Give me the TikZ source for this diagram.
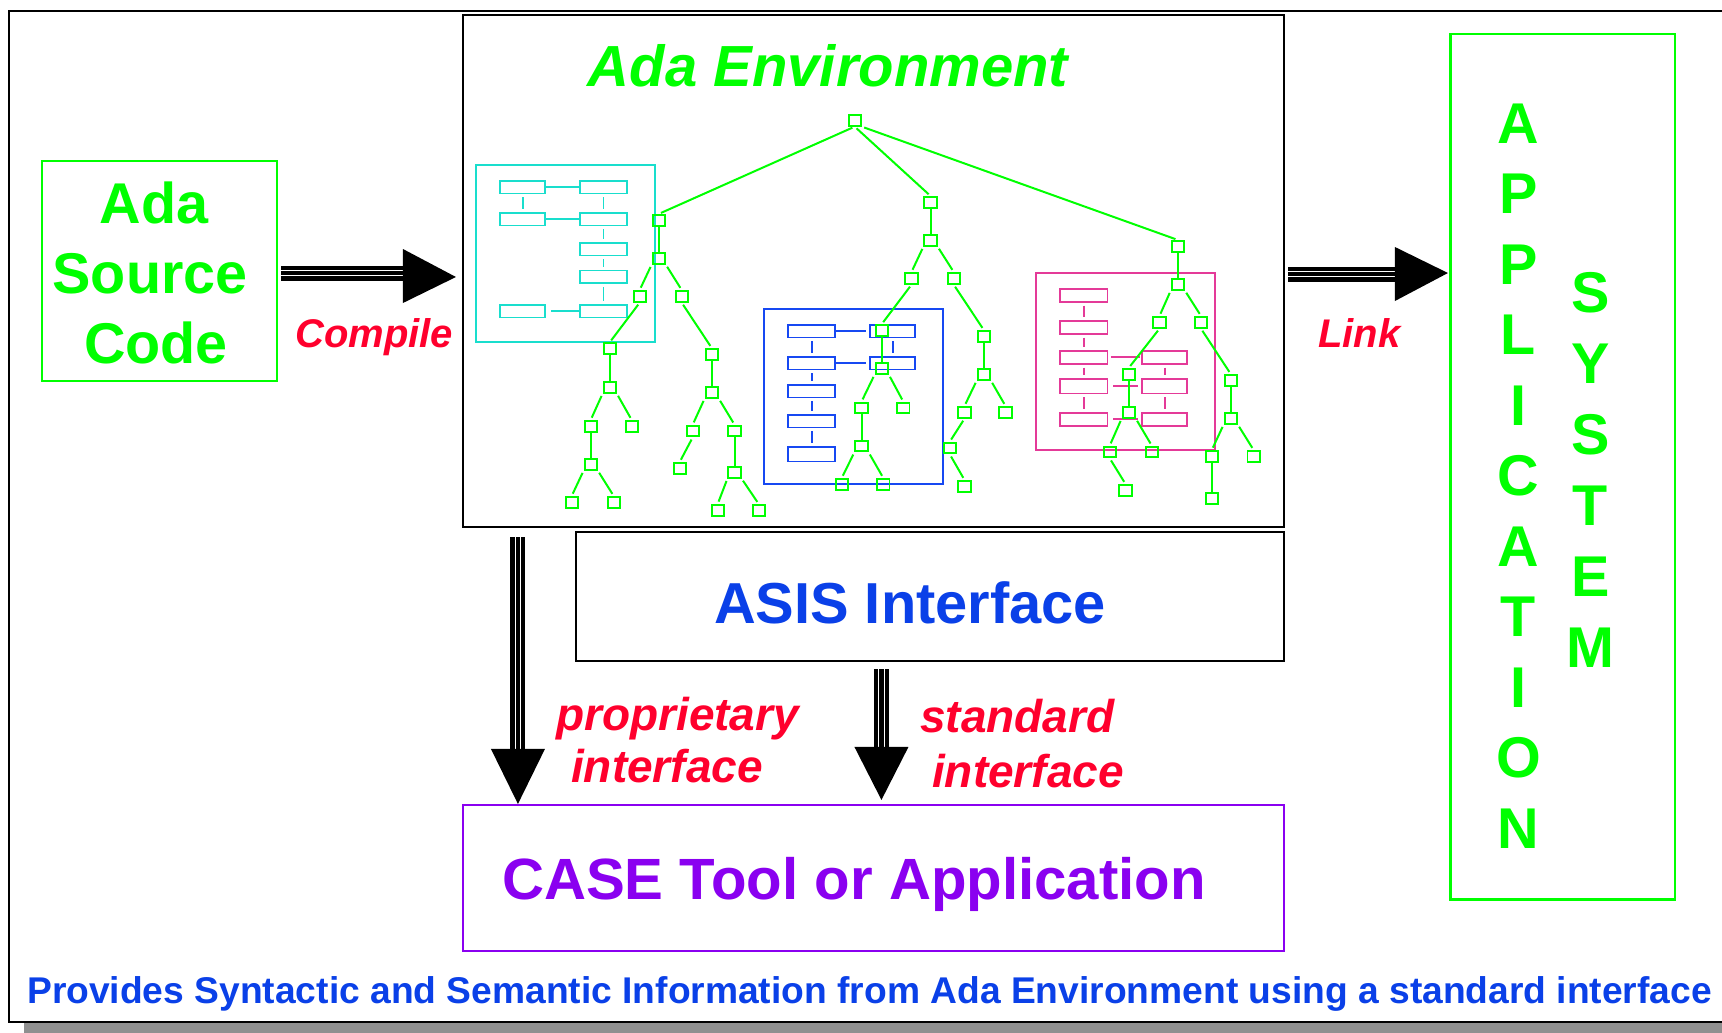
\documentclass[tikz,border=0pt]{standalone}
\usepackage{fontspec}
\setmainfont{Liberation Sans}
\usetikzlibrary{calc}

\definecolor{lime}{RGB}{0,255,0}
\definecolor{lblred}{RGB}{255,0,45}
\definecolor{txtblue}{RGB}{10,64,232}
\definecolor{casepurple}{RGB}{138,0,240}
\definecolor{cyanish}{RGB}{25,222,205}
\definecolor{boxblue}{RGB}{22,72,242}
\definecolor{pinkish}{RGB}{228,58,152}
\definecolor{shadowgray}{RGB}{143,143,143}
\newcommand\fsz[1]{\fontsize{#1pt}{#1pt}\selectfont}

\begin{document}
\begin{tikzpicture}[x=1pt,y=-1pt,
  txt/.style={inner sep=0pt, anchor=base},
  mainbox/.style={draw, line width=1.6pt, inner sep=0pt},
  tnode/.style={draw=lime, line width=1.9pt, minimum width=12.3pt, minimum height=10.8pt, inner sep=0pt},
  tedge/.style={draw=lime, line width=2pt},
  dedge/.style={tedge, shorten <=2.5pt, shorten >=2.5pt},
  mrect/.style={draw, line width=1.8pt, minimum height=12.6pt, inner sep=0pt},
  mlink/.style={line width=1.8pt},
  mdash/.style={line width=1.8pt, shorten <=3pt, shorten >=3pt},
  shaftline/.style={line width=15pt},
  gapline/.style={white, line width=1.3pt},
  bigbold/.style={font=\bfseries\fsz{57.5}},
  lbl/.style={txt, text=lblred, font=\bfseries\itshape\fsz{46}},
]
\useasboundingbox (0,0) rectangle (1722,1033);
\fill[white] (0,0) rectangle (1722,1033);

% outer frame with its drop shadow
\fill[shadowgray] (24,22) rectangle (1760,1045);
\filldraw[fill=white, draw=black, line width=1.6pt] (9,11) rectangle (1745,1022);

% main boxes
\node[mainbox, draw=lime, minimum width=235.5pt, minimum height=220.5pt] (src) at (159.5,271) {};
\node[mainbox, minimum width=821.5pt, minimum height=512.5pt] (env) at (873.5,271) {};
\node[mainbox, minimum width=708.5pt, minimum height=129.5pt] (asis) at (930,596.5) {};
\node[mainbox, draw=casepurple, minimum width=821.5pt, minimum height=146.5pt] (casebox) at (873.5,878) {};
\node[mainbox, draw=lime, line width=2.2pt, minimum width=224.5pt, minimum height=865.5pt] (app) at (1562.8,466.75) {};

% box texts
\node[txt, bigbold, text=lime] (srcA) at (154,223) {Ada};
\node[txt, bigbold, text=lime] (srcB) at (150,293) {Source};
\node[txt, bigbold, text=lime] (srcC) at (156,363) {Code};
\node[txt, text=lime, font=\bfseries\itshape\fsz{58}] (envtitle) at (828,87) {Ada Environment};
\node[txt, text=txtblue, font=\bfseries\fsz{57.8}] (asistext) at (910,623) {ASIS Interface};
\node[txt, text=casepurple, font=\bfseries\fsz{58.2}] (casetext) at (854,899) {CASE Tool or Application};
\foreach \ch [count=\i from 0] in {A,P,P,L,I,C,A,T,I,O,N}
  \node[txt, bigbold, text=lime] (apl\i) at (1518.5,143+70.5*\i) {\ch};
\foreach \ch [count=\i from 0] in {S,Y,S,T,E,M}
  \node[txt, bigbold, text=lime] (sys\i) at (1590.5,312+71*\i) {\ch};
\node[txt, anchor=base west, text=txtblue, font=\bfseries\fsz{37.2}] (caption) at (27,1003)
  {Provides Syntactic and Semantic Information from Ada Environment using a standard interface};

% cyan unit diagram
\begin{scope}[cyanish]
  \draw[line width=2pt] (476,165) rectangle (655,341.5);
  \foreach \r/\y in {1/187.2,2/219.2,5/311.2}
    \node[mrect, minimum width=45pt] (cyl\r) at (522.7,\y) {};
  \foreach \r/\y in {1/187.2,2/219.2,3/249.2,4/276.7,5/311.2}
    \node[mrect, minimum width=46.5pt] (cyr\r) at (603.5,\y) {};
  \draw[mlink] (cyl1) -- (cyr1);
  \draw[mlink] (cyl2) -- (cyr2);
  \draw[mlink, shorten <=5pt] (cyl5) -- (cyr5);
  \draw[mdash] (cyl1) -- (cyl2);
  \foreach \a/\b in {1/2,2/3,3/4,4/5} \draw[mdash] (cyr\a) -- (cyr\b);
\end{scope}

% blue unit diagram
\begin{scope}[boxblue]
  \draw[line width=2pt] (764,309) rectangle (943,483.5);
  \foreach \r/\y in {1/331.2,2/363.2,3/391.2,4/421.2}
    \node[mrect, minimum width=47pt] (bll\r) at (811.7,\y) {};
  \node[mrect, minimum width=47pt, minimum height=14.5pt] (bll5) at (811.7,454.2) {};
  \foreach \r/\y in {1/331.2,2/363.2}
    \node[mrect, minimum width=45pt] (blr\r) at (892.7,\y) {};
  \draw[mlink, shorten >=3pt] (bll1) -- (blr1);
  \draw[mlink, shorten >=3pt] (bll2) -- (blr2);
  \foreach \a/\b in {1/2,2/3,3/4,4/5} \draw[mdash] (bll\a) -- (bll\b);
  \draw[mdash] (blr1) -- (blr2);
\end{scope}

% magenta unit diagram
\begin{scope}[pinkish]
  \draw[line width=2pt] (1036,273) rectangle (1215,449.5);
  \foreach \r/\y in {1/295.5,2/327.3,3/357.3,5/419.3}
    \node[mrect, minimum width=47.5pt] (mgl\r) at (1083.8,\y) {};
  \node[mrect, minimum width=47.5pt, minimum height=14.5pt] (mgl4) at (1083.8,386.3) {};
  \foreach \r/\y in {3/357.3,5/419.3}
    \node[mrect, minimum width=45pt] (mgr\r) at (1164.7,\y) {};
  \node[mrect, minimum width=45pt, minimum height=14.5pt] (mgr4) at (1164.7,386.3) {};
  \draw[mlink, shorten <=2.5pt, shorten >=1pt] (mgl3) -- (mgr3);
  \draw[mlink, shorten <=5pt, shorten >=3pt] (mgl4) -- (mgr4);
  \draw[mlink, shorten <=5pt, shorten >=3pt] (mgl5) -- (mgr5);
  \foreach \a/\b in {1/2,2/3,3/4,4/5} \draw[mdash] (mgl\a) -- (mgl\b);
  \draw[mdash] (mgr3) -- (mgr4);
  \draw[mdash] (mgr4) -- (mgr5);
\end{scope}

% green syntax tree
\foreach \n/\x/\y in {root/854.7/120.3,
  A1/658.7/220.3, A2/658.7/258.3, A3/639.7/296.3, A4/681.7/296.3,
  A5/609.7/348.7, A6/609.7/387.3, A7/590.7/426.3, A8/631.7/426.3,
  A9/590.7/464.3, A10/571.7/502.3, A11/613.7/502.3,
  B1/711.7/354.3, B2/711.7/392.3, B3/692.7/431, B4/734.5/431,
  B5/679.7/468.3, B6/734.5/472.3, B7/717.7/510.3, B8/758.7/510.3,
  C1/930.5/202.3, C2/930.5/240.3, C3/911.5/278.3, C4/953.7/278.3,
  C5/881.7/330.5, C6/881.7/368.3, C7/861.5/408, C8/903.3/408,
  C9/861.5/446, C10/841.7/484.3, C11/883.3/484.3,
  D1/983.8/336.3, D2/983.8/374.3, D3/964.5/412.3, D4/1005.5/412.3,
  D5/949.8/448, D6/964.5/486.3,
  R1/1177.8/246.3, R2/1177.8/284.3, R3/1159.5/322.3, R4/1201/322.3,
  R5/1128.7/374.3, R6/1128.7/412.3, R7/1109.7/452, R8/1151.8/452,
  R9/1125.5/490.3, R10/1230.7/380.3, R11/1230.7/418.3,
  R12/1211.8/456.3, R13/1253.6/456.3, R14/1211.8/498.3}
  \node[tnode] (\n) at (\x,\y) {};

\foreach \a/\b in {A1/A2, A5/A6, A7/A9, B1/B2, B4/B6, C1/C2, C5/C6, C7/C9,
  D1/D2, R1/R2, R5/R6, R10/R11, R12/R14}
  \draw[tedge] (\a) -- (\b);
\foreach \a/\b in {A2/A3, A6/A7, A9/A10, B2/B3, B6/B7, C2/C3, C6/C7, C9/C10,
  D2/D3, R2/R3, R6/R7, R11/R12}
  \draw[dedge] (\a.south west) -- (\b.north);
\foreach \a/\b in {root/R1, A2/A4, A6/A8, A9/A11, B2/B4, B6/B8, C2/C4, C6/C8,
  C9/C11, D2/D4, R2/R4, R6/R8, R11/R13}
  \draw[dedge] (\a.south east) -- (\b.north);
\foreach \a/\b in {root/A1, root/C1, A3/A5, A4/B1, B3/B5, C3/C5, C4/D1,
  D3/D5, D5/D6, R3/R5, R7/R9, R4/R10}
  \draw[dedge] (\a.south) -- (\b.north);

% Compile arrow
\coordinate (cpA) at ($(src.east)+(3,2)$);
\coordinate (cpT) at ($(env.west)+(-6,6)$);
\coordinate (cpB) at ($(cpT)+(-53,-4)$);
\draw[shaftline] (cpA) -- (cpB);
\draw[gapline, transform canvas={yshift=2.75pt}] (cpA) -- (cpB);
\draw[gapline, transform canvas={yshift=-2.75pt}] (cpA) -- (cpB);
\fill ($(cpT)+(-53,-28)$) -- (cpT) -- ($(cpT)+(-53,26)$) -- cycle;
\node[txt, anchor=base west, text=lblred, font=\bfseries\itshape\fsz{40}] (compile) at (295,347) {Compile};

% Link arrow
\coordinate (lkA) at ($(env.east)+(3,3)$);
\coordinate (lkT) at ($(app.west |- env.east)+(-1.5,2)$);
\coordinate (lkB) at ($(lkT)+(-53,1)$);
\draw[shaftline] (lkA) -- (lkB);
\draw[gapline, transform canvas={yshift=2.75pt}] (lkA) -- (lkB);
\draw[gapline, transform canvas={yshift=-2.75pt}] (lkA) -- (lkB);
\fill ($(lkT)+(-53,-26)$) -- (lkT) -- ($(lkT)+(-53,28)$) -- cycle;
\node[txt, anchor=base west, text=lblred, font=\bfseries\itshape\fsz{40}] (link) at (1318,347) {Link};

% proprietary interface arrow
\coordinate (prA) at ($(env.south west)+(56,9)$);
\coordinate (prT) at ($(casebox.north west)+(56,0)$);
\coordinate (prB) at ($(prT)+(0,-55)$);
\draw[shaftline] (prA) -- (prB);
\draw[gapline, transform canvas={xshift=2.75pt}] (prA) -- (prB);
\draw[gapline, transform canvas={xshift=-2.75pt}] (prA) -- (prB);
\fill ($(prT)+(-27,-55)$) -- (prT) -- ($(prT)+(27,-55)$) -- cycle;
\node[lbl, anchor=base west] (prop1) at (556,730) {proprietary};
\node[lbl, anchor=base west] (prop2) at (571,782) {interface};

% standard interface arrow
\coordinate (stA) at ($(asis.south west)+(306.5,7)$);
\coordinate (stT) at ($(casebox.north west)+(419.5,-4)$);
\coordinate (stB) at ($(stT)+(0,-53)$);
\draw[shaftline] (stA) -- (stB);
\draw[gapline, transform canvas={xshift=2.75pt}] (stA) -- (stB);
\draw[gapline, transform canvas={xshift=-2.75pt}] (stA) -- (stB);
\fill ($(stT)+(-27,-53)$) -- (stT) -- ($(stT)+(27,-53)$) -- cycle;
\node[lbl, anchor=base west] (std1) at (920,732) {standard};
\node[lbl, anchor=base west] (std2) at (932,787) {interface};
\end{tikzpicture}
\end{document}
